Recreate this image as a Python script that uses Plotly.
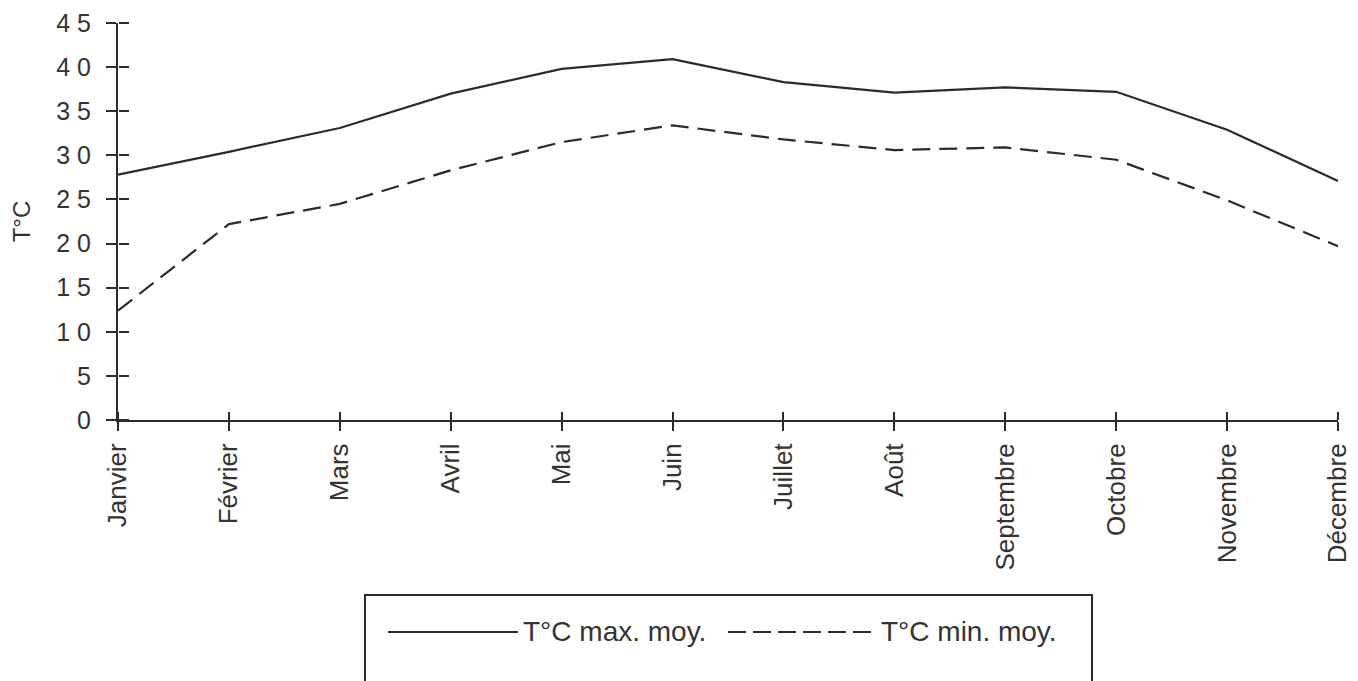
import plotly.graph_objects as go

months = ["Janvier", "Février", "Mars", "Avril", "Mai", "Juin", "Juillet",
          "Août", "Septembre", "Octobre", "Novembre", "Décembre"]
t_max = [27.8, 30.4, 33.1, 37.0, 39.8, 40.9, 38.3, 37.1, 37.7, 37.2, 32.9, 27.1]
t_min = [12.4, 22.2, 24.5, 28.3, 31.5, 33.4, 31.8, 30.6, 30.9, 29.5, 24.9, 19.7]
y_ticks = [0, 5, 10, 15, 20, 25, 30, 35, 40, 45]
y_tick_text = ["0", "5", "1 0", "1 5", "2 0", "2 5", "3 0", "3 5", "4 0", "4 5"]
name_max = "T°C max. moy."
name_min = "T°C min. moy."

OFF = 8  # default page body margin
W, H = 1358 - OFF, 681 - OFF
L, T = 118 - OFF, 23 - OFF
R = 1358 - 1338
B = 681 - 420
PW, PH = W - L - R, H - T - B
INK = "#2b2b2b"
TXT = "#333333"
FONT = "Liberation Sans, Arial, sans-serif"


def px(x):
    return (x - OFF - L) / PW


def py(y):
    return (T + PH - (y - OFF)) / PH


fig = go.Figure()
fig.add_trace(go.Scatter(x=months, y=t_max, mode="lines", name=name_max,
                         line=dict(color=INK, width=2.2), showlegend=False))
fig.add_trace(go.Scatter(x=months, y=t_min, mode="lines", name=name_min,
                         line=dict(color=INK, width=2.2, dash="18px,9px"),
                         showlegend=False))
# invisible trace on the overlay axes, which draw the inner half of the crossing ticks
fig.add_trace(go.Scatter(x=months, y=t_max, mode="lines", xaxis="x2", yaxis="y2",
                         line=dict(width=0, color="rgba(0,0,0,0)"),
                         showlegend=False, hoverinfo="skip"))

fig.update_layout(
    template="none",
    width=W, height=H,
    margin=dict(l=L, r=R, t=T, b=B, autoexpand=False),
    paper_bgcolor="white", plot_bgcolor="rgba(0,0,0,0)",
    font=dict(family=FONT, color=TXT, size=24),
    xaxis=dict(type="category", categoryorder="array", categoryarray=months,
               range=[0, len(months) - 1], showgrid=False, zeroline=False,
               automargin=False,
               showline=True, linecolor=INK, linewidth=2,
               ticks="outside", ticklen=9, tickwidth=2, tickcolor=INK,
               tickangle=-90, tickfont=dict(size=26, family=FONT, color=TXT),
               ticklabelstandoff=2),
    xaxis2=dict(type="category", categoryorder="array", categoryarray=months,
                range=[0, len(months) - 1], overlaying="x", anchor="free",
                position=0, side="top", automargin=False,
                showgrid=False, zeroline=False, showline=False,
                ticks="outside", ticklen=8, tickwidth=2, tickcolor=INK,
                showticklabels=False),
    yaxis=dict(range=[0, 45], tickvals=y_ticks, ticktext=y_tick_text,
               showgrid=False, zeroline=False, showline=True, linecolor=INK,
               automargin=False,
               linewidth=2, ticks="outside", ticklen=10, tickwidth=2,
               tickcolor=INK, tickfont=dict(size=25, family=FONT, color=TXT),
               ticklabelstandoff=10,
               title=dict(text="T°C", font=dict(size=24, family=FONT, color=TXT),
                          standoff=26)),
    yaxis2=dict(range=[0, 45], tickvals=y_ticks, overlaying="y", anchor="free",
                position=0, side="right", automargin=False,
                showgrid=False, zeroline=False, showline=False,
                ticks="outside", ticklen=10, tickwidth=2, tickcolor=INK,
                showticklabels=False),
)

# legend box drawn manually
fig.add_shape(type="rect", xref="paper", yref="paper",
              x0=px(365), x1=px(1092), y0=py(595), y1=py(700),
              line=dict(color=INK, width=2), fillcolor="rgba(0,0,0,0)")
ly = py(632)
fig.add_shape(type="line", xref="paper", yref="paper",
              x0=px(388), x1=px(518), y0=ly, y1=ly,
              line=dict(color=INK, width=2.2))
fig.add_shape(type="line", xref="paper", yref="paper",
              x0=px(728), x1=px(877), y0=ly, y1=ly,
              line=dict(color=INK, width=2.2, dash="18px,7px"))
fig.add_annotation(xref="paper", yref="paper", x=px(521), y=ly, text=name_max,
                   showarrow=False, xanchor="left", yanchor="middle",
                   font=dict(size=28, family=FONT, color=TXT))
fig.add_annotation(xref="paper", yref="paper", x=px(879), y=ly, text=name_min,
                   showarrow=False, xanchor="left", yanchor="middle",
                   font=dict(size=28, family=FONT, color=TXT))

fig.write_html("out.html")
